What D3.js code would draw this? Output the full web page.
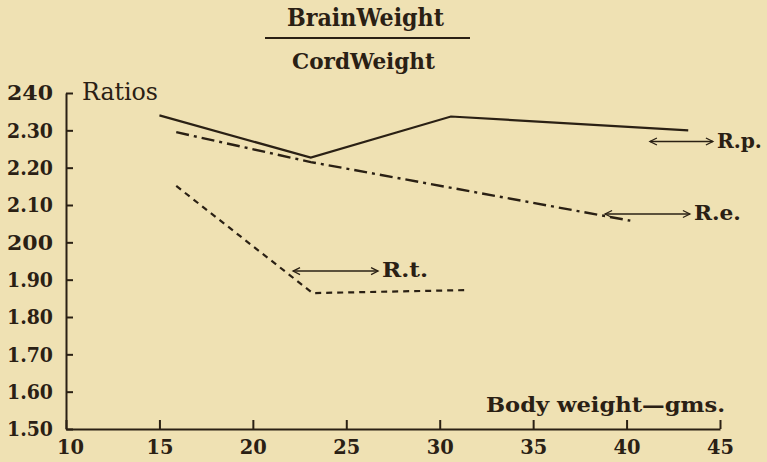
<!DOCTYPE html>
<html>
<head>
<meta charset="utf-8">
<script src="https://cdn.jsdelivr.net/npm/d3@7"></script>
<style>
  body { margin: 0; background: #efe1b3; }
  svg { display: block; }
</style>
</head>
<body>
<svg id="chart" width="767" height="462"></svg>
<script>
// axis ticks
var xTicks = [10, 15, 20, 25, 30, 35, 40, 45];
var yTicks = [1.5, 1.6, 1.7, 1.8, 1.9, 2.0, 2.1, 2.2, 2.3, 2.4];
var yTickLabels = ['1.50', '1.60', '1.70', '1.80', '1.90', '200', '2.10', '2.20', '2.30', '240'];

// series: body weight (gms) vs brain/cord ratio
var seriesNames = ['R.p.', 'R.e.', 'R.t.'];
var rpWeight = [15, 23.1, 30.6, 43.3];
var rpRatio = [2.34, 2.227, 2.337, 2.30];
var reWeight = [15.9, 23.1, 40.2];
var reRatio = [2.295, 2.215, 2.058];
var rtWeight = [15.9, 23.2, 31.35];
var rtRatio = [2.151, 1.864, 1.872];

var ink = '#2a2014';
var svg = d3.select('#chart');

svg.append('rect').attr('width', 767).attr('height', 462).attr('fill', '#efe1b3');

var x = d3.scaleLinear().domain([10, 45]).range([66, 720]);
var y = d3.scaleLinear().domain([1.5, 2.4]).range([429, 93]);

// y axis, ticks point inward
var yAxis = svg.append('g')
  .attr('transform', 'translate(66,0)')
  .call(d3.axisLeft(y).tickValues(yTicks)
    .tickFormat(function(d, i){ return yTickLabels[i] })
    .tickSizeInner(-7).tickSizeOuter(0).tickPadding(13));

var xAxis = svg.append('g')
  .attr('transform', 'translate(0,429)')
  .call(d3.axisBottom(x).tickValues(xTicks)
    .tickSizeInner(-9).tickSizeOuter(0).tickPadding(10));

[yAxis, xAxis].forEach(function(g){
  g.selectAll('path, line').attr('stroke', ink).attr('stroke-width', 2);
  g.selectAll('text')
    .attr('fill', ink)
    .style('font-family', 'DejaVu Serif')
    .style('font-weight', 'bold')
    .style('font-size', '21px');
});
yAxis.selectAll('text').attr('textLength', 46).attr('lengthAdjust', 'spacingAndGlyphs');
xAxis.selectAll('text').attr('dy', '0.72em').attr('textLength', 27).attr('lengthAdjust', 'spacingAndGlyphs');
// first x label sits a little right of the corner
xAxis.selectAll('.tick').filter(function(d){ return d === 10 })
  .select('text').attr('dx', 4);

// lines
var line = d3.line()
  .x(function(d){ return x(d[0]) })
  .y(function(d){ return y(d[1]) });

var rp = d3.zip(rpWeight, rpRatio);
var re = d3.zip(reWeight, reRatio);
var rt = d3.zip(rtWeight, rtRatio);

svg.append('path').datum(rp)
  .attr('d', line).attr('fill', 'none')
  .attr('stroke', ink).attr('stroke-width', 2.2);

svg.append('path').datum(re)
  .attr('d', line).attr('fill', 'none')
  .attr('stroke', ink).attr('stroke-width', 2.4)
  .attr('stroke-dasharray', '13,5,3,5');

svg.append('path').datum(rt)
  .attr('d', line).attr('fill', 'none')
  .attr('stroke', ink).attr('stroke-width', 2.2)
  .attr('stroke-dasharray', '6,5');

// double-headed pointer arrows next to the series names
var defs = svg.append('defs');
defs.append('marker')
  .attr('id', 'head')
  .attr('viewBox', '0 -5 10 10')
  .attr('refX', 8).attr('refY', 0)
  .attr('markerUnits', 'userSpaceOnUse')
  .attr('markerWidth', 10).attr('markerHeight', 10)
  .attr('orient', 'auto-start-reverse')
  .append('path')
  .attr('d', 'M1,-3.5 L8,0 L1,3.5')
  .attr('fill', 'none').attr('stroke', ink).attr('stroke-width', 1.3);

var pointers = [
  { x0: 41.25, x1: 44.62, v: 2.27, w: 45 },
  { x0: 38.85, x1: 43.39, v: 2.076, w: 47 },
  { x0: 22.15, x1: 26.70, v: 1.923, w: 46 }
];

pointers.forEach(function(p, i){
  svg.append('line')
    .attr('x1', x(p.x0)).attr('x2', x(p.x1))
    .attr('y1', y(p.v)).attr('y2', y(p.v))
    .attr('stroke', ink).attr('stroke-width', 1.5)
    .attr('marker-start', 'url(#head)')
    .attr('marker-end', 'url(#head)');
  svg.append('text')
    .attr('x', x(p.x1) + 4).attr('y', y(p.v) + 6)
    .attr('textLength', p.w).attr('lengthAdjust', 'spacingAndGlyphs')
    .attr('fill', ink)
    .style('font-family', 'DejaVu Serif')
    .style('font-weight', 'bold')
    .style('font-size', '21px')
    .text(seriesNames[i]);
});

// title as a fraction
svg.append('text')
  .attr('x', 287).attr('y', 26)
  .attr('textLength', 157).attr('lengthAdjust', 'spacingAndGlyphs')
  .attr('fill', ink)
  .style('font-family', 'DejaVu Serif')
  .style('font-weight', 'bold')
  .style('font-size', '24px')
  .text('BrainWeight');
svg.append('line')
  .attr('x1', 265).attr('x2', 470).attr('y1', 38).attr('y2', 38)
  .attr('stroke', ink).attr('stroke-width', 2);
svg.append('text')
  .attr('x', 292).attr('y', 69)
  .attr('textLength', 143).attr('lengthAdjust', 'spacingAndGlyphs')
  .attr('fill', ink)
  .style('font-family', 'DejaVu Serif')
  .style('font-weight', 'bold')
  .style('font-size', '23px')
  .text('CordWeight');

// axis titles
svg.append('text')
  .attr('x', 82).attr('y', 100)
  .attr('textLength', 76).attr('lengthAdjust', 'spacingAndGlyphs')
  .attr('fill', ink)
  .style('font-family', 'DejaVu Serif')
  .style('font-size', '24px')
  .text('Ratios');
svg.append('text')
  .attr('x', 486).attr('y', 412)
  .attr('textLength', 239).attr('lengthAdjust', 'spacingAndGlyphs')
  .attr('fill', ink)
  .style('font-family', 'DejaVu Serif')
  .style('font-weight', 'bold')
  .style('font-size', '20px')
  .text('Body weight—gms.');
</script>
</body>
</html>
